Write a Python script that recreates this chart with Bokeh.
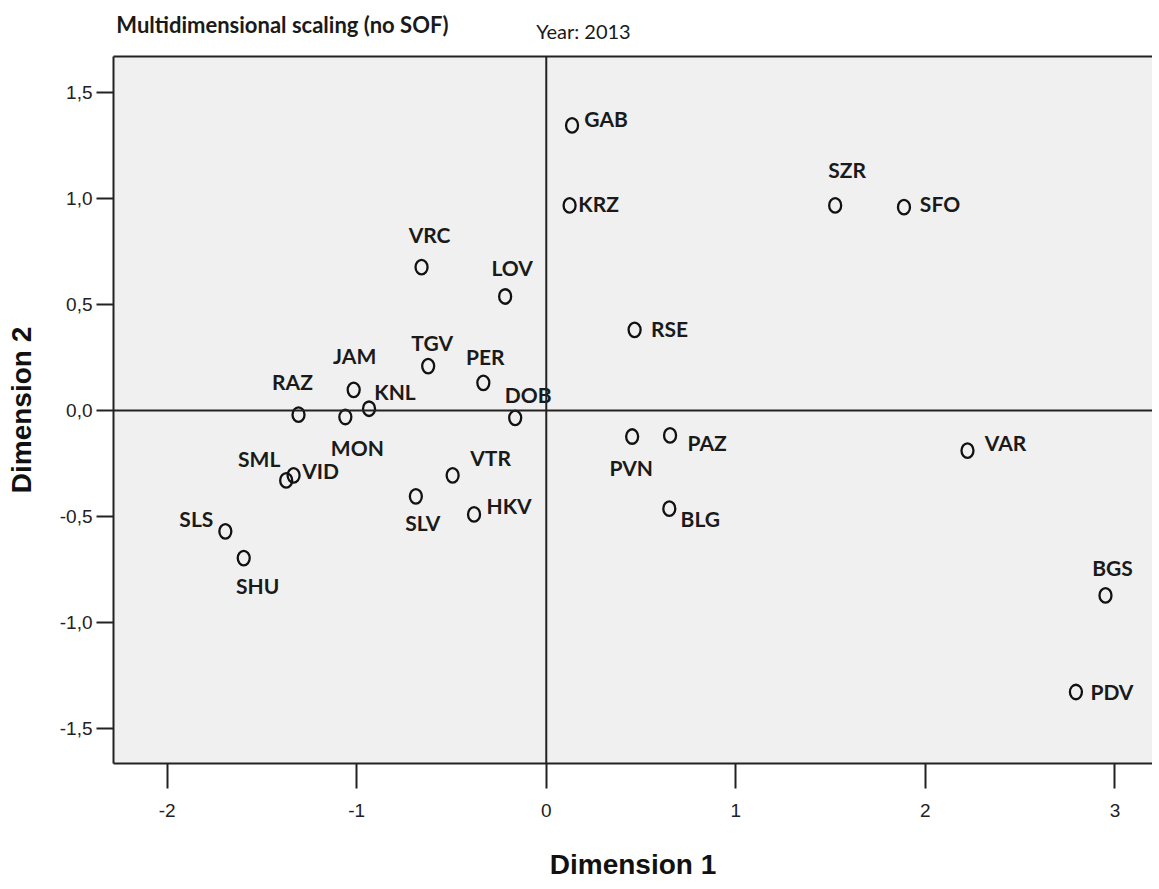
from bokeh.plotting import figure
from bokeh.models import ColumnDataSource, FixedTicker, LinearAxis, Span, Range1d
from bokeh.core.properties import value
from bokeh.embed import file_html
from bokeh.resources import INLINE

# ---- data ----
codes = ["GAB", "KRZ", "SZR", "SFO", "RSE", "VRC", "LOV", "TGV", "PER", "JAM",
         "KNL", "RAZ", "MON", "DOB", "SML", "VID", "VTR", "SLV", "HKV", "SLS",
         "SHU", "PVN", "PAZ", "VAR", "BLG", "BGS", "PDV"]
dim1 = [0.136, 0.123, 1.524, 1.887, 0.466, -0.658, -0.217, -0.623, -0.332, -1.016,
        -0.935, -1.307, -1.060, -0.164, -1.372, -1.333, -0.494, -0.688, -0.381, -1.693,
        -1.596, 0.453, 0.653, 2.222, 0.649, 2.950, 2.794]
dim2 = [1.343, 0.966, 0.966, 0.958, 0.380, 0.675, 0.537, 0.209, 0.130, 0.097,
        0.008, -0.020, -0.031, -0.035, -0.330, -0.306, -0.306, -0.405, -0.490, -0.570,
        -0.696, -0.123, -0.118, -0.189, -0.463, -0.872, -1.327]

x_ticks = [-2, -1, 0, 1, 2, 3]
x_tick_labels = ["-2", "-1", "0", "1", "2", "3"]
y_ticks = [-1.5, -1.0, -0.5, 0.0, 0.5, 1.0, 1.5]
y_tick_labels = ["-1,5", "-1,0", "-0,5", "0,0", "0,5", "1,0", "1,5"]

chart_title = "Multidimensional scaling (no SOF)"
title_pos = -1.392   # horizontal centre of the title caption, in Dimension 1 units
year_text = "Year: 2013"
year_pos = 0.196     # horizontal centre of the year caption, in Dimension 1 units

# label placement relative to each point (screen px, y down)
lab_dx = [34, 29, 12, 36, 35, 8, 7, 4, 2, 1,
          26, -6, 12, 13, -27, 27, 38, 7, 35, -29,
          14, -1, 37, 38, 31, 7, 36]
lab_dy = [-7, -2, -36, -4, -1, -33, -29, -24, -26, -34,
          -17, -33, 30, -23, -22, -5, -18, 26, -9, -13,
          27, 31, 7, -8, 10, -28, 0]

src = ColumnDataSource(dict(x=dim1, y=dim2, code=codes, dx=lab_dx, dy=lab_dy))

p = figure(width=1152, height=887,
           x_range=Range1d(-2.283, 3.198), y_range=Range1d(-1.664, 1.668),
           output_backend="svg", toolbar_location=None,
           min_border_left=113, min_border_right=0,
           min_border_top=56, min_border_bottom=124)
p.background_fill_color = "#f0f0f0"
p.border_fill_color = "white"
p.outline_line_color = None
p.grid.visible = False
p.title.visible = False

tick_font = "Liberation Sans"

xa = p.xaxis[0]
xa.ticker = FixedTicker(ticks=x_ticks)
xa.major_label_overrides = {t: s for t, s in zip(x_ticks, x_tick_labels)}
xa.minor_tick_line_color = None
xa.major_tick_in = 0
xa.major_tick_out = 25
xa.major_tick_line_width = 2
xa.major_tick_line_color = "#222222"
xa.axis_line_width = 2
xa.axis_line_color = "#222222"
xa.major_label_standoff = 15
xa.major_label_text_font = tick_font
xa.major_label_text_font_size = "19px"
xa.major_label_text_color = "#222222"
xa.axis_label = "Dimension 1"
xa.axis_label_text_font = tick_font
xa.axis_label_text_font_style = "bold"
xa.axis_label_text_font_size = "28px"
xa.axis_label_text_color = "#111111"
xa.axis_label_standoff = 29

ya = p.yaxis[0]
ya.ticker = FixedTicker(ticks=y_ticks)
ya.major_label_overrides = {t: s for t, s in zip(y_ticks, y_tick_labels)}
ya.minor_tick_line_color = None
ya.major_tick_in = 0
ya.major_tick_out = 17
ya.major_tick_line_width = 2
ya.major_tick_line_color = "#222222"
ya.axis_line_width = 2
ya.axis_line_color = "#222222"
ya.major_label_standoff = 4
ya.major_label_text_font = tick_font
ya.major_label_text_font_size = "19px"
ya.major_label_text_color = "#222222"
ya.axis_label = "Dimension 2"
ya.axis_label_text_font = tick_font
ya.axis_label_text_font_style = "bold"
ya.axis_label_text_font_size = "28px"
ya.axis_label_text_color = "#111111"
ya.axis_label_standoff = 20

# top frame line, carrying the "Year" caption as its only label
top_axis = LinearAxis(ticker=FixedTicker(ticks=[year_pos]),
                      major_label_overrides={year_pos: year_text},
                      major_label_text_font="Lato", major_label_text_font_size="20px",
                      major_label_text_color="#1a1a1a",
                      major_label_standoff=14, major_tick_in=0, major_tick_out=0,
                      major_tick_line_color=None, minor_tick_line_color=None,
                      axis_line_width=2, axis_line_color="#222222")
p.add_layout(top_axis, "above")

# invisible outer axis that carries the chart title, pulled down next to the year
title_axis = LinearAxis(ticker=FixedTicker(ticks=[title_pos]),
                        major_label_overrides={title_pos: chart_title},
                        major_label_text_font="Lato", major_label_text_font_size="22px",
                        major_label_text_font_style="bold",
                        major_label_text_color="#1a1a1a",
                        major_label_standoff=-22, major_tick_in=0, major_tick_out=0,
                        major_tick_line_color=None, minor_tick_line_color=None,
                        axis_line_color=None)
p.add_layout(title_axis, "above")

p.add_layout(Span(location=0, dimension="height", line_color="#222222", line_width=2))
p.add_layout(Span(location=0, dimension="width", line_color="#222222", line_width=2))

p.ellipse(x="x", y="y", width=12, height=14.5, width_units="screen", height_units="screen",
          fill_color=None, line_color="#111111", line_width=2.3, source=src)

p.text(x="x", y="y", text="code", x_offset="dx", y_offset="dy",
       text_align="center", text_baseline="middle",
       text_font=value("Lato"), text_font_style="bold",
       text_font_size="21px", text_color="#1a1a1a", source=src)

open("out.html", "w").write(file_html(p, INLINE))
